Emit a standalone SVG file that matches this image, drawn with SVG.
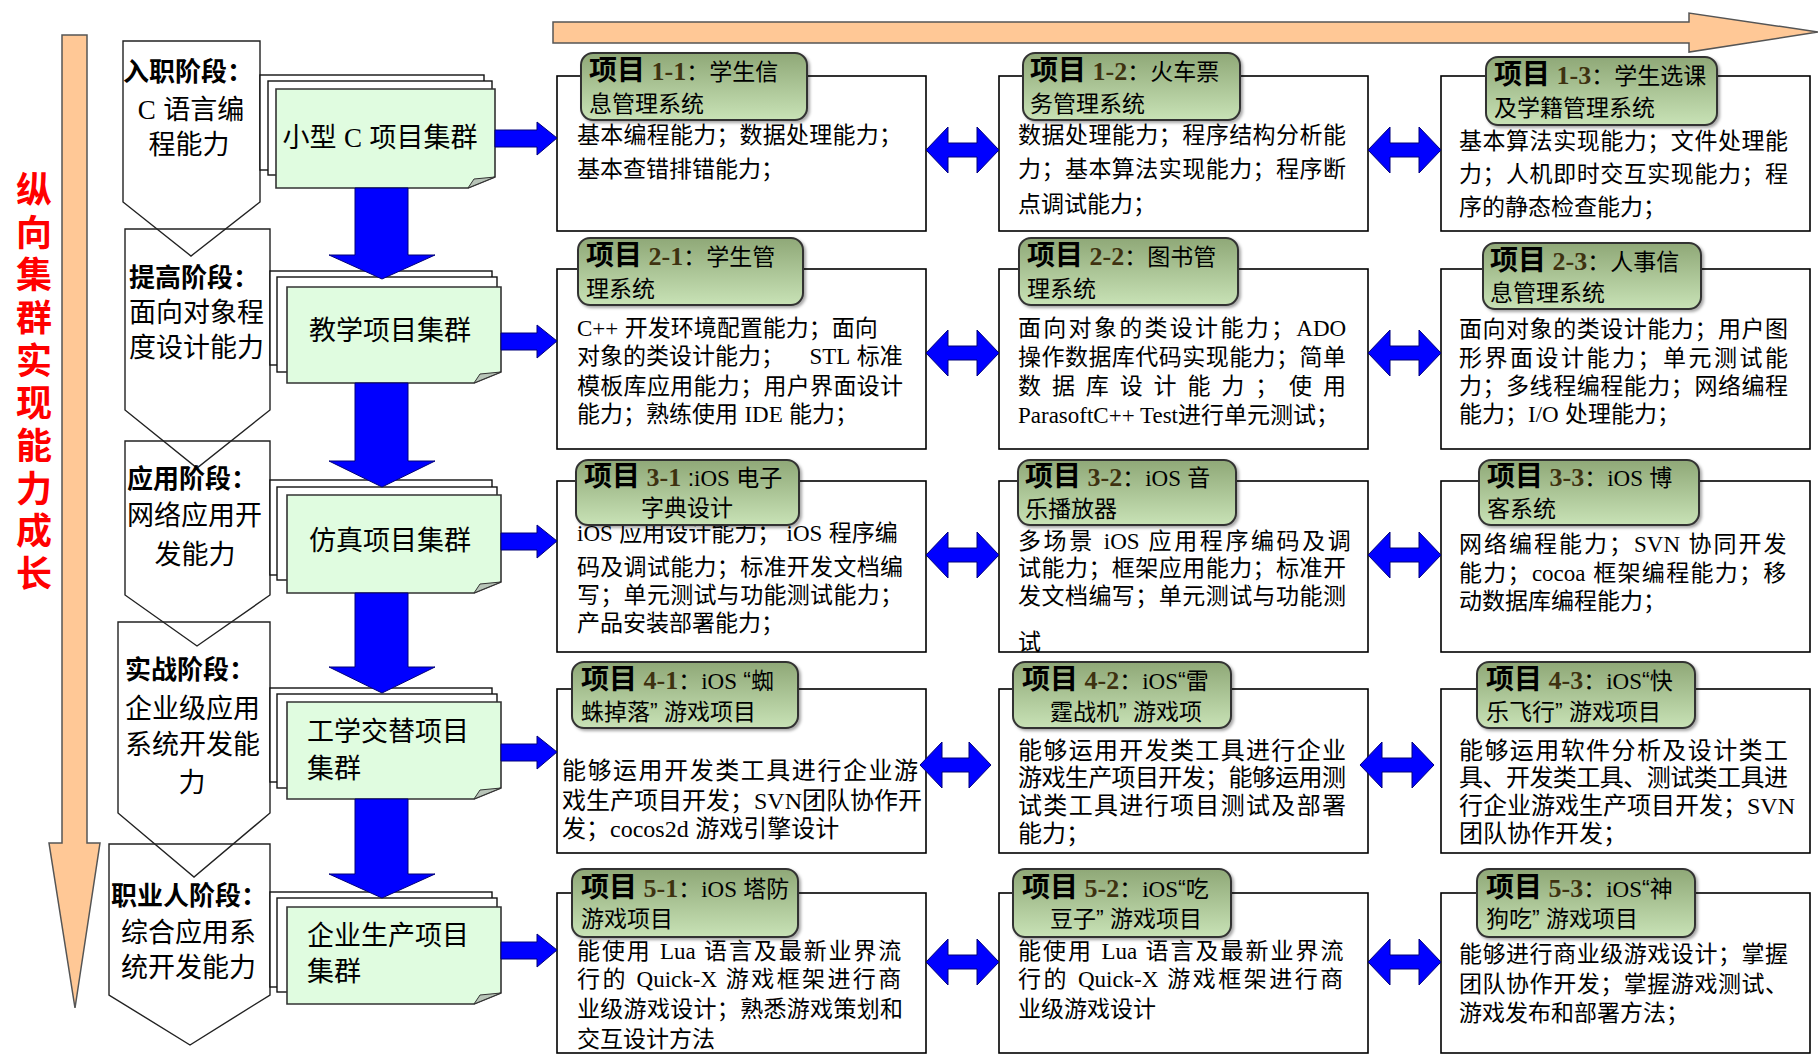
<svg xmlns="http://www.w3.org/2000/svg" width="1818" height="1055" viewBox="0 0 1818 1055">
<defs>
<linearGradient id="lg" x1="0" y1="0" x2="0" y2="1">
<stop offset="0" stop-color="#8fa877"/>
<stop offset="1" stop-color="#c8e2b6"/>
</linearGradient>
<filter id="sh" x="-5%" y="-5%" width="115%" height="120%">
<feDropShadow dx="2" dy="2" stdDeviation="1.5" flood-color="#000" flood-opacity="0.35"/>
</filter>
<style>
.body{font-family:"Liberation Sans","Noto Sans CJK SC",sans-serif;font-size:23px;fill:#000}
.b4{font-size:24px}
.lat{font-family:"Liberation Serif","Noto Sans CJK SC",serif;letter-spacing:0}
.num{font-family:"Liberation Serif",serif;font-weight:bold;fill:#3e3210}
.lb{font-family:"Liberation Sans","Noto Sans CJK SC",sans-serif;font-size:23px;fill:#000}
.xm{font-weight:bold;font-size:28px}
.box{fill:#fff;stroke:#000;stroke-width:1.6}
.lab{fill:url(#lg);stroke:#333;stroke-width:2}
.pent{fill:none;stroke:#222;stroke-width:1.4}
.stg{font-family:"Liberation Sans","Noto Sans CJK SC",sans-serif;font-size:27px;fill:#000}
.stb{font-weight:bold;font-size:26px}
.page{fill:#fff;stroke:#111;stroke-width:1.4}
.front{fill:#e0fce0;stroke:#333;stroke-width:1.6}
.fold{fill:#b8c4b8;stroke:#333;stroke-width:1}
.ct{font-family:"Liberation Sans","Noto Sans CJK SC",sans-serif;font-size:27px;fill:#000}
.blue{fill:#0000ff;stroke:#00007a;stroke-width:1}
.orange{fill:#ffc896;stroke:#555;stroke-width:1.5}
.red{font-family:"Liberation Sans","Noto Sans CJK SC",sans-serif;font-size:36px;font-weight:bold;fill:#ff0000;text-anchor:middle}
</style>
</defs>
<rect width="1818" height="1055" fill="#fff"/>

<g id="growth-arrows">
<path class="orange" d="M62,35 H87 V843 H100 L75,1008 L49,843 H62 Z"/>
<path class="orange" d="M553,22 H1689 V13 L1818,32 L1689,52 V43 H553 Z"/>
<g id="vertical-title">
<text class="red" x="34" y="203">纵</text>
<text class="red" x="34" y="246">向</text>
<text class="red" x="34" y="288">集</text>
<text class="red" x="34" y="331">群</text>
<text class="red" x="34" y="374">实</text>
<text class="red" x="34" y="416">现</text>
<text class="red" x="34" y="459">能</text>
<text class="red" x="34" y="502">力</text>
<text class="red" x="34" y="544">成</text>
<text class="red" x="34" y="587">长</text>
</g>
</g>

<g id="stage1">
<path class="pent" d="M123,41 H260 V202 L191,256 L123,202 Z"/>
<text class="stg stb" x="123" y="81">入职阶段：</text>
<text class="stg" x="191" y="119" text-anchor="middle"><tspan class="lat">C</tspan> 语言编</text>
<text class="stg" x="189" y="154" text-anchor="middle">程能力</text>
</g>
<g id="stage2">
<path class="pent" d="M125,229 H270 V410 L197,468 L125,410 Z"/>
<text class="stg stb" x="129" y="287">提高阶段：</text>
<text class="stg" x="129" y="322">面向对象程</text>
<text class="stg" x="129" y="357">度设计能力</text>
</g>
<g id="stage3">
<path class="pent" d="M125,441 H270 V595 L197,646 L125,595 Z"/>
<text class="stg stb" x="127" y="488">应用阶段：</text>
<text class="stg" x="127" y="525">网络应用开</text>
<text class="stg" x="195" y="564" text-anchor="middle">发能力</text>
</g>
<g id="stage4">
<path class="pent" d="M118,622 H270 V813 L194,877 L118,813 Z"/>
<text class="stg stb" x="125" y="679">实战阶段：</text>
<text class="stg" x="125" y="718">企业级应用</text>
<text class="stg" x="125" y="754">系统开发能</text>
<text class="stg" x="192" y="792" text-anchor="middle">力</text>
</g>
<g id="stage5">
<path class="pent" d="M109,844 H270 V995 L190,1045 L109,995 Z"/>
<text class="stg stb" x="111" y="905">职业人阶段：</text>
<text class="stg" x="121" y="942">综合应用系</text>
<text class="stg" x="121" y="977">统开发能力</text>
</g>

<g id="cluster1">
<rect class="page" x="260" y="75" width="224" height="95"/>
<rect class="page" x="268" y="81" width="224" height="94"/>
<path class="front" d="M276,89 H495 V177 L468,188 H276 Z"/>
<path class="fold" d="M495,177 L468,188 L474,179 Z"/>
<text class="ct" x="380" y="147" text-anchor="middle">小型 <tspan class="lat">C</tspan> 项目集群</text>
</g>
<g id="cluster2">
<rect class="page" x="270" y="271" width="222" height="94"/>
<rect class="page" x="277" y="277" width="220" height="95"/>
<path class="front" d="M287,287 H501 V372 L474,383 H287 Z"/>
<path class="fold" d="M501,372 L474,383 L480,374 Z"/>
<text class="ct" x="390" y="340" text-anchor="middle">教学项目集群</text>
</g>
<g id="cluster3">
<rect class="page" x="270" y="480" width="222" height="95"/>
<rect class="page" x="277" y="487" width="220" height="93"/>
<path class="front" d="M287,495 H501 V582 L474,593 H287 Z"/>
<path class="fold" d="M501,582 L474,593 L480,584 Z"/>
<text class="ct" x="390" y="550" text-anchor="middle">仿真项目集群</text>
</g>
<g id="cluster4">
<rect class="page" x="270" y="688" width="222" height="94"/>
<rect class="page" x="277" y="694" width="220" height="94"/>
<path class="front" d="M287,702 H501 V788 L474,799 H287 Z"/>
<path class="fold" d="M501,788 L474,799 L480,790 Z"/>
<text class="ct" x="307" y="741">工学交替项目</text>
<text class="ct" x="307" y="778">集群</text>
</g>
<g id="cluster5">
<rect class="page" x="270" y="892" width="222" height="95"/>
<rect class="page" x="277" y="898" width="220" height="94"/>
<path class="front" d="M287,907 H501 V993 L474,1004 H287 Z"/>
<path class="fold" d="M501,993 L474,1004 L480,995 Z"/>
<text class="ct" x="307" y="945">企业生产项目</text>
<text class="ct" x="307" y="981">集群</text>
</g>

<g id="project-boxes">
<g id="p1-1">
<rect class="box" x="557" y="76" width="369" height="155"/>
<text class="body" x="577" y="143" textLength="325" lengthAdjust="spacing">基本编程能力；数据处理能力；</text>
<text class="body" x="577" y="177">基本查错排错能力；</text>
<rect class="lab" x="581" y="53" width="226" height="67" rx="12" filter="url(#sh)"/>
<text class="lb" x="589" y="80"><tspan class="xm">项目</tspan><tspan class="num" font-size="26"> 1-1</tspan>：学生信</text>
<text class="lb" x="589" y="112" font-size="24">息管理系统</text>
</g>
<g id="p1-2">
<rect class="box" x="999" y="76" width="369" height="155"/>
<text class="body" x="1018" y="143" textLength="328" lengthAdjust="spacing">数据处理能力；程序结构分析能</text>
<text class="body" x="1018" y="177" textLength="328" lengthAdjust="spacing">力；基本算法实现能力；程序断</text>
<text class="body" x="1018" y="212">点调试能力；</text>
<rect class="lab" x="1023" y="53" width="217" height="67" rx="12" filter="url(#sh)"/>
<text class="lb" x="1030" y="80"><tspan class="xm">项目</tspan><tspan class="num" font-size="26"> 1-2</tspan>：火车票</text>
<text class="lb" x="1030" y="112" font-size="24">务管理系统</text>
</g>
<g id="p1-3">
<rect class="box" x="1441" y="76" width="369" height="155"/>
<text class="body" x="1459" y="149" textLength="329" lengthAdjust="spacing">基本算法实现能力；文件处理能</text>
<text class="body" x="1459" y="182" textLength="329" lengthAdjust="spacing">力；人机即时交互实现能力；程</text>
<text class="body" x="1459" y="215">序的静态检查能力；</text>
<rect class="lab" x="1486" y="57" width="231" height="68" rx="12" filter="url(#sh)"/>
<text class="lb" x="1494" y="84"><tspan class="xm">项目</tspan><tspan class="num" font-size="26"> 1-3</tspan>：学生选课</text>
<text class="lb" x="1494" y="116" font-size="24">及学籍管理系统</text>
</g>

<g id="p2-1">
<rect class="box" x="557" y="269" width="369" height="180"/>
<text class="body" x="577" y="336"><tspan class="lat">C++</tspan> 开发环境配置能力；面向</text>
<text class="body" x="577" y="364">对象的类设计能力； <tspan class="lat" dx="19">STL</tspan> 标准</text>
<text class="body" x="577" y="394" textLength="326" lengthAdjust="spacing">模板库应用能力；用户界面设计</text>
<text class="body" x="577" y="422">能力；熟练使用 <tspan class="lat">IDE</tspan> 能力；</text>
<rect class="lab" x="578" y="238" width="225" height="67" rx="12" filter="url(#sh)"/>
<text class="lb" x="586" y="265"><tspan class="xm">项目</tspan><tspan class="num" font-size="26"> 2-1</tspan>：学生管</text>
<text class="lb" x="586" y="297" font-size="24">理系统</text>
</g>
<g id="p2-2">
<rect class="box" x="999" y="269" width="369" height="180"/>
<text class="body" x="1018" y="336" letter-spacing="2.3">面向对象的类设计能力；<tspan class="lat">ADO</tspan></text>
<text class="body" x="1018" y="365" textLength="328" lengthAdjust="spacing">操作数据库代码实现能力；简单</text>
<text class="body" x="1018" y="394" textLength="328" lengthAdjust="spacing">数据库设计能力；使用</text>
<text class="body" x="1018" y="423"><tspan class="lat">ParasoftC++ Test</tspan>进行单元测试；</text>
<rect class="lab" x="1019" y="238" width="219" height="67" rx="12" filter="url(#sh)"/>
<text class="lb" x="1027" y="265"><tspan class="xm">项目</tspan><tspan class="num" font-size="26"> 2-2</tspan>：图书管</text>
<text class="lb" x="1027" y="297" font-size="24">理系统</text>
</g>
<g id="p2-3">
<rect class="box" x="1441" y="269" width="369" height="180"/>
<text class="body" x="1459" y="337" textLength="329" lengthAdjust="spacing">面向对象的类设计能力；用户图</text>
<text class="body" x="1459" y="366" textLength="329" lengthAdjust="spacing">形界面设计能力；单元测试能</text>
<text class="body" x="1459" y="394" textLength="329" lengthAdjust="spacing">力；多线程编程能力；网络编程</text>
<text class="body" x="1459" y="422">能力；<tspan class="lat">I/O</tspan> 处理能力；</text>
<rect class="lab" x="1483" y="243" width="218" height="66" rx="12" filter="url(#sh)"/>
<text class="lb" x="1490" y="270"><tspan class="xm">项目</tspan><tspan class="num" font-size="26"> 2-3</tspan>：人事信</text>
<text class="lb" x="1490" y="301" font-size="24">息管理系统</text>
</g>

<g id="p3-1">
<rect class="box" x="557" y="481" width="369" height="171"/>
<text class="body" x="577" y="541"><tspan class="lat">iOS</tspan> 应用设计能力； <tspan class="lat">iOS</tspan> 程序编</text>
<text class="body" x="577" y="575" textLength="326" lengthAdjust="spacing">码及调试能力；标准开发文档编</text>
<text class="body" x="577" y="603" textLength="326" lengthAdjust="spacing">写；单元测试与功能测试能力；</text>
<text class="body" x="577" y="631">产品安装部署能力；</text>
<rect class="lab" x="576" y="460" width="223" height="65" rx="12" filter="url(#sh)"/>
<text class="lb" x="584" y="486"><tspan class="xm">项目</tspan><tspan class="num" font-size="26"> 3-1 </tspan>:<tspan class="lat">iOS</tspan> 电子</text>
<text class="lb" x="687" y="516" font-size="24" text-anchor="middle">字典设计</text>
</g>
<g id="p3-2">
<rect class="box" x="999" y="481" width="369" height="171"/>
<text class="body" x="1018" y="549" letter-spacing="2.6">多场景 <tspan class="lat">iOS</tspan> 应用程序编码及调</text>
<text class="body" x="1018" y="576" textLength="328" lengthAdjust="spacing">试能力；框架应用能力；标准开</text>
<text class="body" x="1018" y="604" textLength="328" lengthAdjust="spacing">发文档编写；单元测试与功能测</text>
<text class="body" x="1018" y="650">试</text>
<rect class="lab" x="1018" y="460" width="218" height="65" rx="12" filter="url(#sh)"/>
<text class="lb" x="1025" y="486"><tspan class="xm">项目</tspan><tspan class="num" font-size="26"> 3-2</tspan>：<tspan class="lat">iOS</tspan> 音</text>
<text class="lb" x="1025" y="517" font-size="24">乐播放器</text>
</g>
<g id="p3-3">
<rect class="box" x="1441" y="481" width="369" height="171"/>
<text class="body" x="1459" y="552" letter-spacing="2">网络编程能力；<tspan class="lat">SVN</tspan> 协同开发</text>
<text class="body" x="1459" y="581" letter-spacing="1.3">能力；<tspan class="lat">cocoa</tspan> 框架编程能力；移</text>
<text class="body" x="1459" y="609">动数据库编程能力；</text>
<rect class="lab" x="1479" y="460" width="220" height="65" rx="12" filter="url(#sh)"/>
<text class="lb" x="1487" y="486"><tspan class="xm">项目</tspan><tspan class="num" font-size="26"> 3-3</tspan>：<tspan class="lat">iOS</tspan> 博</text>
<text class="lb" x="1487" y="517" font-size="24">客系统</text>
</g>

<g id="p4-1">
<rect class="box" x="557" y="689" width="369" height="164"/>
<text class="body b4" x="562" y="779" textLength="356" lengthAdjust="spacing">能够运用开发类工具进行企业游</text>
<text class="body b4" x="562" y="809">戏生产项目开发；<tspan class="lat">SVN</tspan>团队协作开</text>
<text class="body b4" x="562" y="837">发；<tspan class="lat">cocos2d</tspan> 游戏引擎设计</text>
<rect class="lab" x="572" y="662" width="226" height="66" rx="12" filter="url(#sh)"/>
<text class="lb" x="581" y="689"><tspan class="xm">项目</tspan><tspan class="num" font-size="26"> 4-1</tspan>：<tspan class="lat">iOS</tspan> “蜘</text>
<text class="lb" x="581" y="720" font-size="24">蛛掉落” 游戏项目</text>
</g>
<g id="p4-2">
<rect class="box" x="999" y="689" width="369" height="164"/>
<text class="body b4" x="1018" y="759" textLength="328" lengthAdjust="spacing">能够运用开发类工具进行企业</text>
<text class="body b4" x="1018" y="786" textLength="328" lengthAdjust="spacing">游戏生产项目开发；能够运用测</text>
<text class="body b4" x="1018" y="814" textLength="328" lengthAdjust="spacing">试类工具进行项目测试及部署</text>
<text class="body b4" x="1018" y="842">能力；</text>
<rect class="lab" x="1013" y="662" width="218" height="66" rx="12" filter="url(#sh)"/>
<text class="lb" x="1022" y="689"><tspan class="xm">项目</tspan><tspan class="num" font-size="26"> 4-2</tspan>：<tspan class="lat">iOS</tspan>“雷</text>
<text class="lb" x="1050" y="720" font-size="24">霆战机” 游戏项</text>
</g>
<g id="p4-3">
<rect class="box" x="1441" y="689" width="369" height="164"/>
<text class="body b4" x="1459" y="759" textLength="329" lengthAdjust="spacing">能够运用软件分析及设计类工</text>
<text class="body b4" x="1459" y="786" textLength="329" lengthAdjust="spacing">具、开发类工具、测试类工具进</text>
<text class="body b4" x="1459" y="814">行企业游戏生产项目开发；<tspan class="lat">SVN</tspan></text>
<text class="body b4" x="1459" y="842">团队协作开发；</text>
<rect class="lab" x="1477" y="662" width="218" height="66" rx="12" filter="url(#sh)"/>
<text class="lb" x="1486" y="689"><tspan class="xm">项目</tspan><tspan class="num" font-size="26"> 4-3</tspan>：<tspan class="lat">iOS</tspan>“快</text>
<text class="lb" x="1486" y="720" font-size="24">乐飞行” 游戏项目</text>
</g>

<g id="p5-1">
<rect class="box" x="557" y="893" width="369" height="160"/>
<text class="body" x="577" y="959" letter-spacing="1.9">能使用 <tspan class="lat">Lua</tspan> 语言及最新业界流</text>
<text class="body" x="577" y="987" letter-spacing="2.4">行的 <tspan class="lat">Quick-X</tspan> 游戏框架进行商</text>
<text class="body" x="577" y="1017" textLength="326" lengthAdjust="spacing">业级游戏设计；熟悉游戏策划和</text>
<text class="body" x="577" y="1047">交互设计方法</text>
<rect class="lab" x="572" y="869" width="226" height="68" rx="12" filter="url(#sh)"/>
<text class="lb" x="581" y="897"><tspan class="xm">项目</tspan><tspan class="num" font-size="26"> 5-1</tspan>：<tspan class="lat">iOS</tspan> 塔防</text>
<text class="lb" x="581" y="927" font-size="24">游戏项目</text>
</g>
<g id="p5-2">
<rect class="box" x="999" y="893" width="369" height="160"/>
<text class="body" x="1018" y="959" letter-spacing="2">能使用 <tspan class="lat">Lua</tspan> 语言及最新业界流</text>
<text class="body" x="1018" y="987" letter-spacing="2.5">行的 <tspan class="lat">Quick-X</tspan> 游戏框架进行商</text>
<text class="body" x="1018" y="1017">业级游戏设计</text>
<rect class="lab" x="1013" y="869" width="218" height="68" rx="12" filter="url(#sh)"/>
<text class="lb" x="1022" y="897"><tspan class="xm">项目</tspan><tspan class="num" font-size="26"> 5-2</tspan>：<tspan class="lat">iOS</tspan>“吃</text>
<text class="lb" x="1050" y="927" font-size="24">豆子” 游戏项目</text>
</g>
<g id="p5-3">
<rect class="box" x="1441" y="893" width="369" height="160"/>
<text class="body" x="1459" y="962" textLength="329" lengthAdjust="spacing">能够进行商业级游戏设计；掌握</text>
<text class="body" x="1459" y="992" textLength="329" lengthAdjust="spacing">团队协作开发；掌握游戏测试、</text>
<text class="body" x="1459" y="1021">游戏发布和部署方法；</text>
<rect class="lab" x="1477" y="869" width="218" height="68" rx="12" filter="url(#sh)"/>
<text class="lb" x="1486" y="897"><tspan class="xm">项目</tspan><tspan class="num" font-size="26"> 5-3</tspan>：<tspan class="lat">iOS</tspan>“神</text>
<text class="lb" x="1486" y="927" font-size="24">狗吃” 游戏项目</text>
</g>
</g>

<g id="connectors">
<g id="down-arrows">
<path class="blue" d="M355,188 H408 V255 H435 L382,279 L329,255 H355 Z"/>
<path class="blue" d="M355,383 H408 V461 H435 L382,487 L329,461 H355 Z"/>
<path class="blue" d="M355,593 H408 V667 H435 L382,693 L329,667 H355 Z"/>
<path class="blue" d="M355,799 H408 V874 H435 L382,898 L329,874 H355 Z"/>
</g>
<g id="right-arrows">
<path class="blue" d="M495,130 H537 V122 L557,138 L537,155 V147 H495 Z"/>
<path class="blue" d="M501,333 H537 V325 L557,341 L537,358 V350 H501 Z"/>
<path class="blue" d="M501,533 H537 V525 L557,541 L537,558 V550 H501 Z"/>
<path class="blue" d="M501,744 H537 V736 L557,752 L537,769 V761 H501 Z"/>
<path class="blue" d="M501,942 H537 V934 L557,950 L537,967 V959 H501 Z"/>
</g>
<g id="double-arrows">
<path class="blue" d="M926,150 L948,127 V143 H977 V127 L999,150 L977,173 V157 H948 V173 Z"/>
<path class="blue" d="M1368,150 L1390,127 V143 H1419 V127 L1441,150 L1419,173 V157 H1390 V173 Z"/>
<path class="blue" d="M926,353 L948,330 V346 H977 V330 L999,353 L977,376 V360 H948 V376 Z"/>
<path class="blue" d="M1368,353 L1390,330 V346 H1419 V330 L1441,353 L1419,376 V360 H1390 V376 Z"/>
<path class="blue" d="M926,555 L948,532 V548 H977 V532 L999,555 L977,578 V562 H948 V578 Z"/>
<path class="blue" d="M1368,555 L1390,532 V548 H1419 V532 L1441,555 L1419,578 V562 H1390 V578 Z"/>
<path class="blue" d="M920,765 L942,742 V758 H969 V742 L991,765 L969,788 V772 H942 V788 Z"/>
<path class="blue" d="M1360,765 L1382,742 V758 H1412 V742 L1434,765 L1412,788 V772 H1382 V788 Z"/>
<path class="blue" d="M926,962 L948,939 V955 H977 V939 L999,962 L977,985 V969 H948 V985 Z"/>
<path class="blue" d="M1368,962 L1390,939 V955 H1419 V939 L1441,962 L1419,985 V969 H1390 V985 Z"/>
</g>
</g>
</svg>
